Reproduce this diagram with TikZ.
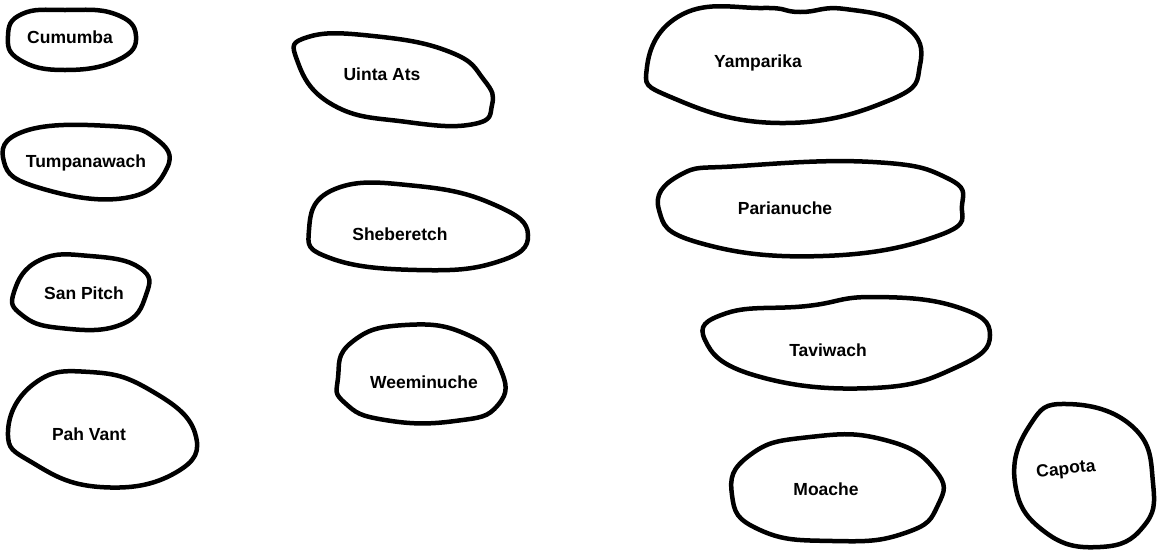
\documentclass[tikz,border=0pt]{standalone}
\usepackage{fontspec}
\setmainfont{Liberation Sans}
\begin{document}
\begin{tikzpicture}[x=1pt,y=-1pt,
  blob/.style={draw=black,line width=4.5pt,line join=round},
  lbl/.style={font=\fontsize{17.5}{19}\selectfont\bfseries,inner sep=0pt}]
\useasboundingbox (0,0) rectangle (1158,555);
\fill[white] (0,0) rectangle (1158,555);
% blobs
\draw[blob] plot[smooth cycle,tension=0.8] coordinates {(8,36) (22,14) (65,10) (115,14) (136,36) (118,60) (65,70) (20,60)};
\draw[blob] plot[smooth cycle,tension=0.8] coordinates {(297,60) (308,37) (373,36) (450,52) (484,80) (492,105) (474,124) (407,122) (333,105)};
\draw[blob] plot[smooth cycle,tension=0.8] coordinates {(647,67) (683,14) (763,8) (800,12) (845,9) (905,26) (920,65) (890,100) (780,123) (673,98)};
\draw[blob] plot[smooth cycle,tension=0.8] coordinates {(4,162) (25,131) (110,126) (155,138) (167,168) (125,198) (40,188)};
\draw[blob] plot[smooth cycle,tension=0.8] coordinates {(309,230) (335,189) (417,186) (495,205) (528,235) (497,262) (417,270) (330,258)};
\draw[blob] plot[smooth cycle,tension=0.8] coordinates {(659,210) (680,175) (740,166) (873,162) (947,178) (962,205) (940,235) (823,256) (700,243)};
\draw[blob] plot[smooth cycle,tension=0.8] coordinates {(14,292) (40,260) (90,256) (140,268) (146,295) (120,325) (60,328) (22,315)};
\draw[blob] plot[smooth cycle,tension=0.8] coordinates {(705,340) (727,313) (807,306) (873,297) (957,307) (990,335) (957,367) (873,388) (757,376)};
\draw[blob] plot[smooth cycle,tension=0.85] coordinates {(338,378) (352,342) (405,325) (468,335) (500,368) (498,405) (455,421) (385,420) (345,403)};
\draw[blob] plot[smooth cycle,tension=0.8] coordinates {(8,432) (35,383) (90,372) (150,390) (195,433) (175,473) (100,487) (33,463)};
\draw[blob] plot[smooth cycle,tension=0.85] coordinates {(732,495) (750,455) (810,437) (885,440) (935,470) (938,505) (905,533) (833,541) (760,530)};
\draw[blob] plot[smooth cycle,tension=0.8] coordinates {(1015,483) (1030,425) (1067,404) (1133,427) (1153,483) (1143,527) (1100,547) (1045,532)};
% labels
\node[lbl] (cumumba) at (70,37) {Cumumba};
\node[lbl] (uinta) at (382,74) {Uinta Ats};
\node[lbl] (yamparika) at (758,63) {Yamparika};
\node[lbl] (tumpanawach) at (86,163) {Tumpanawach};
\node[lbl] (sheberetch) at (400,234) {Sheberetch};
\node[lbl] (parianuche) at (785,208) {Parianuche};
\node[lbl] (sanpitch) at (84,293) {San Pitch};
\node[lbl] (taviwach) at (828,350) {Taviwach};
\node[lbl] (weeminuche) at (424,382) {Weeminuche};
\node[lbl] (pahvant) at (89,434) {Pah Vant};
\node[lbl] (moache) at (826,489) {Moache};
\node[lbl,rotate=6] (capota) at (1066,470) {Capota};
\end{tikzpicture}
\end{document}
